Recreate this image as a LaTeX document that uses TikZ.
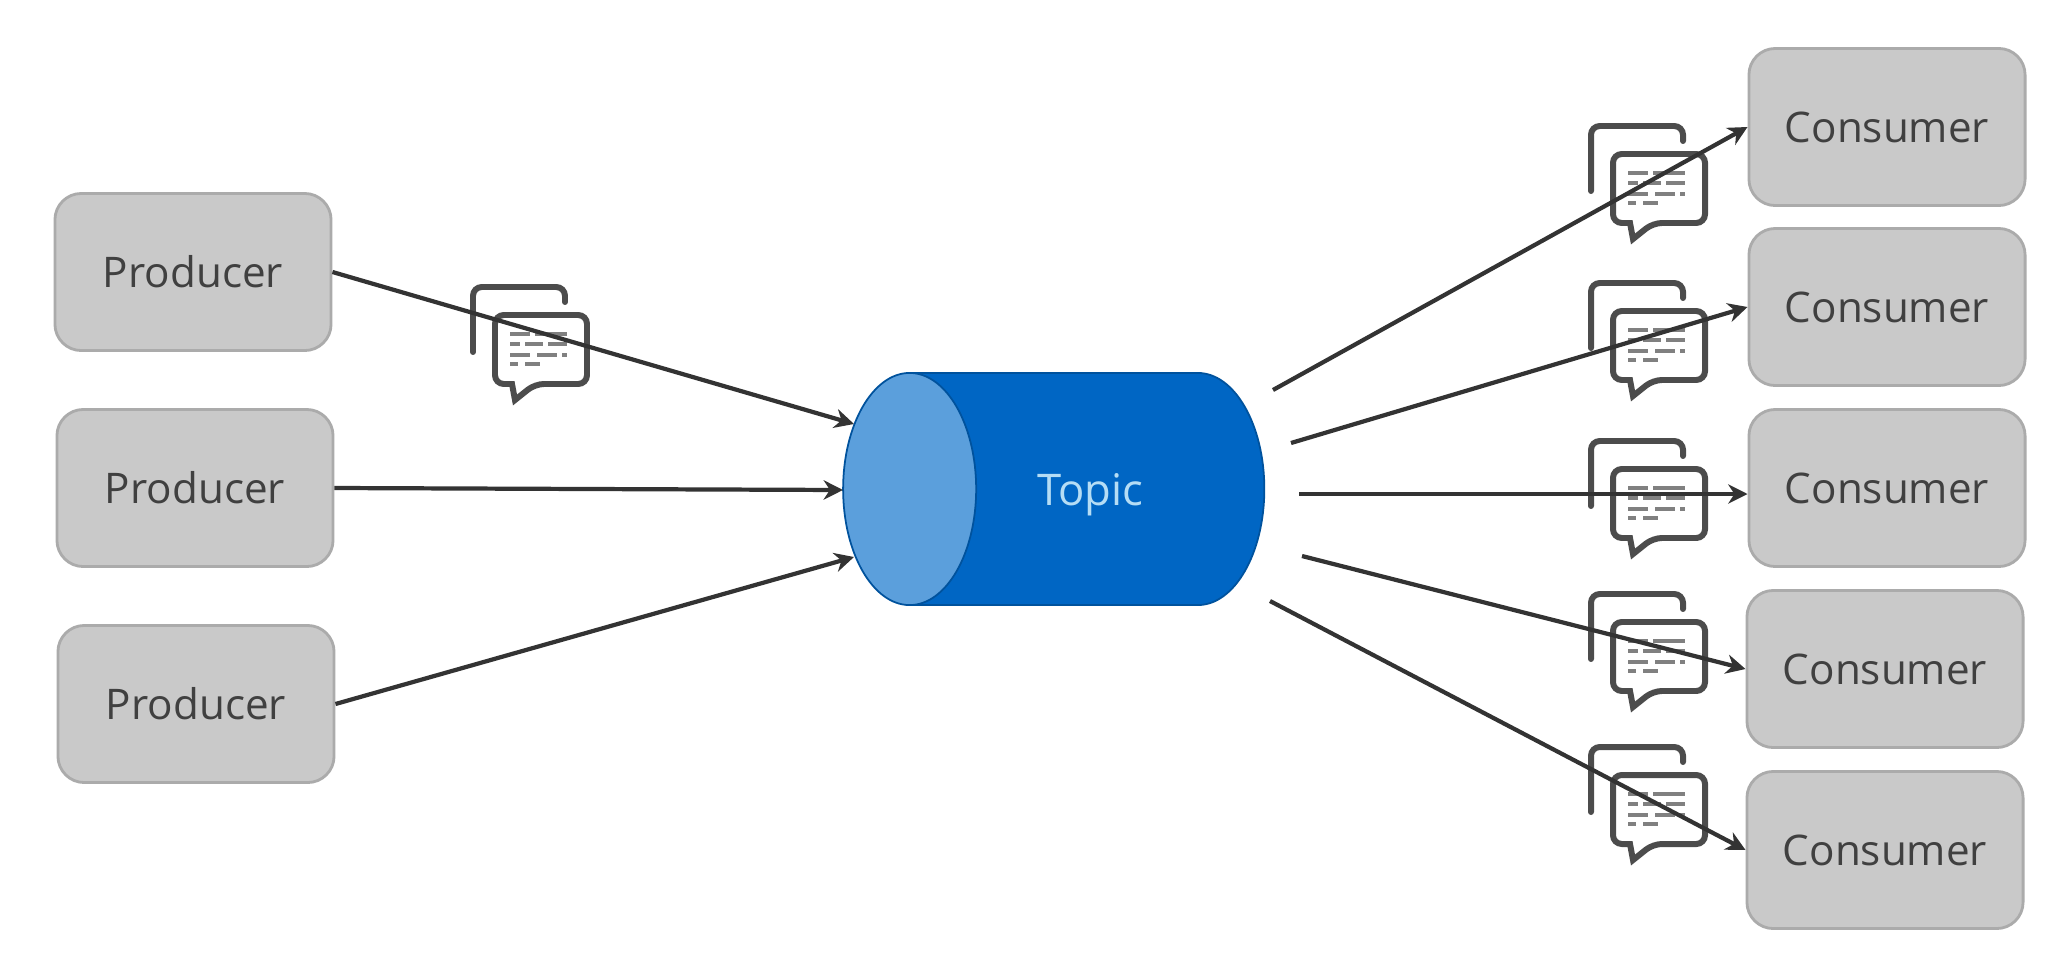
\documentclass[tikz,border=0pt]{standalone}
\usepackage{fontspec}
\setmainfont{Open Sans}
\usetikzlibrary{shapes.geometric, arrows.meta, positioning}

\begin{document}
\begin{tikzpicture}[x=0.01cm, y=-0.01cm,
		actor/.style={rectangle, rounded corners=7.5pt, draw=black!33, fill=black!21, line width=0.8pt,
			minimum width=2.76cm, minimum height=1.57cm, text=black!75, font=\fontsize{12}{14}\selectfont},
		topic/.style={cylinder, shape border rotate=180, shape aspect=2.4, cylinder uses custom fill,
			cylinder body fill=topicblue, cylinder end fill=topicend, draw=topicblue!80!black, line width=0.5pt,
			minimum width=2.32cm, minimum height=4.21cm, text depth=0pt, text=topictext, font=\fontsize{12.4}{14}\selectfont},
		arrow/.style={-{Stealth[length=5.5pt, width=5.5pt]}, line width=1.2pt, draw=black!80},
		msgline/.style={line width=1.7pt, draw=black!70, line cap=round},
		msgtext/.style={line width=1.1pt, draw=black!50},
		msgicon/.pic={
			\draw[msgline, rounded corners=2.5pt] (1,64) -- (1,-1) -- (93,-1) -- (93,14);
			\draw[msgline, fill=white, rounded corners=2.5pt] (40,96) -- (23,96) -- (23,27) -- (115,27) -- (115,96) -- (63,96) [sharp corners] -- (43,112) -- cycle;
			\draw[msgtext] (38,46) -- (58,46) (63,46) -- (95,46);
			\draw[msgtext] (38,56) -- (48,56) (53,56) -- (71,56) (76,56) -- (95,56);
			\draw[msgtext] (38,67) -- (58,67) (65,67) -- (85,67) (90,67) -- (95,67);
			\draw[msgtext] (38,76) -- (46,76) (53,76) -- (68,76);
		},
		]
	\definecolor{topicblue}{HTML}{0066C4}
	\definecolor{topicend}{HTML}{5B9FDC}
	\definecolor{topictext}{HTML}{B5DDF5}
	\useasboundingbox (0,0) rectangle (2066,954);

	% Producers
	\node[actor] (prod1) at (193,272) {Producer};
	\node[actor] (prod2) at (195,488) {Producer};
	\node[actor] (prod3) at (196,704) {Producer};

	% Topic
	\node[topic] (topic) at (1102,489) {\hspace*{-0.24cm}Topic};

	% Consumers
	\node[actor] (con1) at (1887,127) {Consumer};
	\node[actor] (con2) at (1887,307) {Consumer};
	\node[actor] (con3) at (1887,488) {Consumer};
	\node[actor] (con4) at (1885,669) {Consumer};
	\node[actor] (con5) at (1885,850) {Consumer};

	% Messages
	\pic at (472,288) {msgicon};
	\pic at (1590,127) {msgicon};
	\pic at (1590,284) {msgicon};
	\pic at (1590,442) {msgicon};
	\pic at (1590,595) {msgicon};
	\pic at (1590,748) {msgicon};

	% Free ends at the topic
	\coordinate (in1) at (854,424);
	\coordinate (in2) at (843,490);
	\coordinate (in3) at (854,557);
	\coordinate (out1) at (1273,390);
	\coordinate (out2) at (1291,443);
	\coordinate (out3) at (1299,494);
	\coordinate (out4) at (1302,556);
	\coordinate (out5) at (1270,601);

	% Arrows
	\draw[arrow] (prod1.east) -- (in1);
	\draw[arrow] (prod2.east) -- (in2);
	\draw[arrow] (prod3.east) -- (in3);
	\draw[arrow] (out1) -- (con1.west);
	\draw[arrow] (out2) -- (con2.west);
	\draw[arrow] (out3) -- (out3 -| con3.west);
	\draw[arrow] (out4) -- (con4.west);
	\draw[arrow] (out5) -- (con5.west);
\end{tikzpicture}
\end{document}
